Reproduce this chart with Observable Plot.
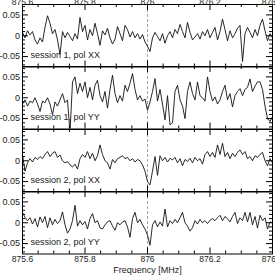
<!DOCTYPE html>
<html><head><meta charset="utf-8">
<script src="https://cdn.jsdelivr.net/npm/d3@7"></script>
<script src="https://cdn.jsdelivr.net/npm/@observablehq/plot@0.6"></script>
<style>
html,body{margin:0;padding:0;background:#fff;}
#chart{position:relative;width:275px;height:275px;overflow:hidden;background:#fff;}
#chart svg{position:absolute;left:0;}
</style></head><body><div id="chart"></div>
<script>
// channel grid (MHz)
const freqStart = 875.6, freqStep = 0.008;
// spectra (one value per channel)
const s1xx = [0.008,-0.005,0.012,0.002,0.010,-0.010,-0.020,-0.005,-0.015,0.020,0.048,0.030,0.005,0.015,-0.010,-0.045,0.010,-0.005,0.008,-0.002,-0.012,0.005,-0.008,0.044,0.010,0.025,-0.010,0.015,0.000,0.030,0.005,-0.023,0.012,0.002,0.018,-0.005,-0.020,-0.008,0.022,0.005,-0.012,0.025,0.015,-0.003,0.010,-0.005,0.005,-0.008,0.003,-0.015,-0.025,-0.038,-0.005,0.008,-0.002,-0.012,0.005,-0.018,0.000,0.010,-0.005,0.015,0.005,0.027,0.010,-0.005,0.032,0.008,-0.010,-0.003,0.005,-0.008,0.010,0.000,0.015,-0.005,0.008,0.020,-0.010,0.010,0.040,0.015,-0.012,0.012,-0.005,0.005,0.018,0.025,-0.062,0.005,0.020,0.008,-0.005,0.015,0.000,0.025,0.040,0.012,-0.012,0.005,-0.005];
const s1yy = [-0.015,-0.005,-0.020,-0.008,-0.012,0.000,-0.015,-0.033,-0.008,-0.012,0.000,-0.015,-0.041,-0.010,-0.020,-0.005,0.010,-0.012,-0.005,-0.085,0.038,0.050,0.010,0.035,0.015,0.038,0.000,0.025,-0.005,0.030,0.042,0.005,-0.010,0.015,-0.025,0.020,0.054,0.010,-0.012,0.005,-0.008,0.030,0.015,0.035,0.058,0.020,-0.005,0.005,-0.008,-0.003,-0.030,-0.010,0.015,0.046,-0.008,0.020,-0.015,-0.053,0.005,-0.065,-0.060,0.015,0.030,-0.005,-0.020,-0.050,0.015,0.038,0.010,-0.005,0.038,0.005,0.000,-0.008,0.050,0.015,-0.008,0.002,-0.015,-0.005,0.015,0.030,-0.005,0.010,-0.022,0.005,0.015,0.022,0.005,0.020,0.025,0.045,0.015,0.028,0.038,0.038,0.020,-0.020,-0.050,-0.057,-0.045];
const s2xx = [0.014,-0.025,-0.005,0.005,-0.003,0.008,0.003,0.010,0.005,0.015,0.022,0.010,0.018,0.022,0.008,0.014,0.000,-0.005,-0.002,-0.010,-0.015,-0.008,-0.020,0.005,0.015,0.008,0.022,0.005,0.018,0.000,0.012,0.038,0.015,0.000,-0.005,-0.020,0.003,-0.005,0.005,0.008,0.012,0.005,0.008,0.000,0.005,-0.003,0.003,0.000,-0.010,-0.025,-0.050,-0.058,-0.025,0.010,-0.035,0.012,0.000,0.008,-0.003,0.006,0.002,0.008,-0.005,0.005,-0.012,0.003,-0.002,0.006,-0.005,0.008,0.000,0.005,-0.008,0.015,0.022,0.010,0.020,0.008,0.038,0.015,0.042,0.010,0.020,0.005,0.018,0.010,0.020,0.026,0.015,0.022,0.005,0.010,0.000,0.012,0.008,0.015,0.020,0.000,-0.012,0.005,-0.005];
const s2yy = [0.025,0.013,0.005,0.012,-0.003,0.010,-0.010,0.014,0.000,0.015,-0.012,0.012,-0.005,0.008,-0.002,0.005,0.026,-0.005,-0.025,-0.015,0.005,0.042,-0.008,0.005,-0.005,0.003,-0.015,0.010,0.022,0.000,0.005,-0.012,-0.015,-0.005,0.002,0.005,-0.008,-0.018,0.000,-0.005,0.002,0.005,-0.010,-0.035,0.010,0.025,0.000,0.008,-0.005,-0.015,-0.030,-0.054,-0.005,0.005,-0.010,0.002,-0.008,0.033,-0.010,0.005,-0.002,0.008,0.000,0.012,0.025,0.000,-0.008,-0.020,-0.012,0.005,-0.003,0.008,0.000,0.005,-0.002,0.006,0.010,0.005,0.012,0.018,0.005,0.015,0.010,0.002,0.015,0.025,-0.002,0.012,0.005,0.025,0.002,0.025,-0.005,0.015,-0.013,0.018,0.005,0.012,-0.015,0.002,0.000];
const series = [s1xx, s1yy, s2xx, s2yy];
const panelLabels = ["session 1, pol XX", "session 1, pol YY", "session 2, pol XX", "session 2, pol YY"];
const xTickLabels = [875.6, 875.8, 876, 876.2, 876.4];
const yTickLabels = [-0.05, 0, 0.05];
const lineFreq = 876;
const xTitle = "Frequency [MHz]";

const xMajor = xTickLabels;
const xMinor = d3.range(875.6, 876.4001, 0.05).map(v => +v.toFixed(3)).filter(v => !xMajor.some(m => Math.abs(m - v) < 1e-6));
const yMajor = yTickLabels;
const yMinor = d3.range(-0.07, 0.0701, 0.01).map(v => +v.toFixed(3)).filter(v => !yMajor.some(m => Math.abs(m - v) < 1e-6));

const W = 275, left = 22, right = 3, frameTop0 = 3.5, panelH = 62.5;
const plotW = W - left - right;
const font = "'Liberation Sans', Arial, Helvetica, sans-serif";
const chart = document.getElementById("chart");

series.forEach((values, k) => {
  const mt = k === 0 ? 12 : 2, mb = k === 3 ? 25 : 2;
  const data = values.map((v, i) => ({f: freqStart + i * freqStep, v}));
  const marks = [
    Plot.ruleX([lineFreq], {x: d => d, stroke: "#8a8a8a", strokeDasharray: "3,2", strokeWidth: 0.8}),
    Plot.line(data, {x: "f", y: "v", stroke: "#111", strokeWidth: 0.9, clip: true}),
    Plot.frame({stroke: "#000", strokeWidth: 1}),
    Plot.tickX(xMinor, {x: d => d, insetTop: panelH - 3, stroke: "#000"}),
    Plot.tickX(xMinor, {x: d => d, insetBottom: panelH - 3, stroke: "#000"}),
    Plot.tickX(xMajor, {x: d => d, insetTop: panelH - 6, stroke: "#000"}),
    Plot.tickX(xMajor, {x: d => d, insetBottom: panelH - 6, stroke: "#000"}),
    Plot.tickY(yMinor, {y: d => d, insetRight: plotW - 3, stroke: "#000"}),
    Plot.tickY(yMinor, {y: d => d, insetLeft: plotW - 3, stroke: "#000"}),
    Plot.tickY(yMajor, {y: d => d, insetRight: plotW - 6, stroke: "#000"}),
    Plot.tickY(yMajor, {y: d => d, insetLeft: plotW - 6, stroke: "#000"}),
    Plot.text(yTickLabels, {y: d => d, frameAnchor: "left", dx: -2.5, textAnchor: "end", text: d => String(d), fontSize: 9, fill: "#222"}),
    Plot.text([panelLabels[k]], {frameAnchor: "bottom-left", dx: 8, dy: -9, textAnchor: "start", text: d => d, fontSize: 9, fill: "#222"})
  ];
  if (k === 0) {
    marks.push(Plot.text(xTickLabels, {x: d => d, frameAnchor: "top", dy: -6, text: d => String(d), fontSize: 8.5, fill: "#222"}));
  }
  if (k === 3) {
    marks.push(Plot.text(xTickLabels, {x: d => d, frameAnchor: "bottom", dy: 8, text: d => String(d), fontSize: 8.5, fill: "#222"}));
    marks.push(Plot.text([xTitle], {frameAnchor: "bottom", dy: 18.5, text: d => d, fontSize: 9, fill: "#222"}));
  }
  const svg = Plot.plot({
    width: W,
    height: mt + panelH + mb,
    marginLeft: left, marginRight: right, marginTop: mt, marginBottom: mb,
    x: {domain: [875.6, 876.4], axis: null},
    y: {domain: [-0.075, 0.075], axis: null},
    style: {background: "transparent", overflow: "visible", fontFamily: font, fontSize: "8px"},
    marks
  });
  svg.style.top = (frameTop0 + k * panelH - mt) + "px";
  chart.appendChild(svg);
});
</script></body></html>
